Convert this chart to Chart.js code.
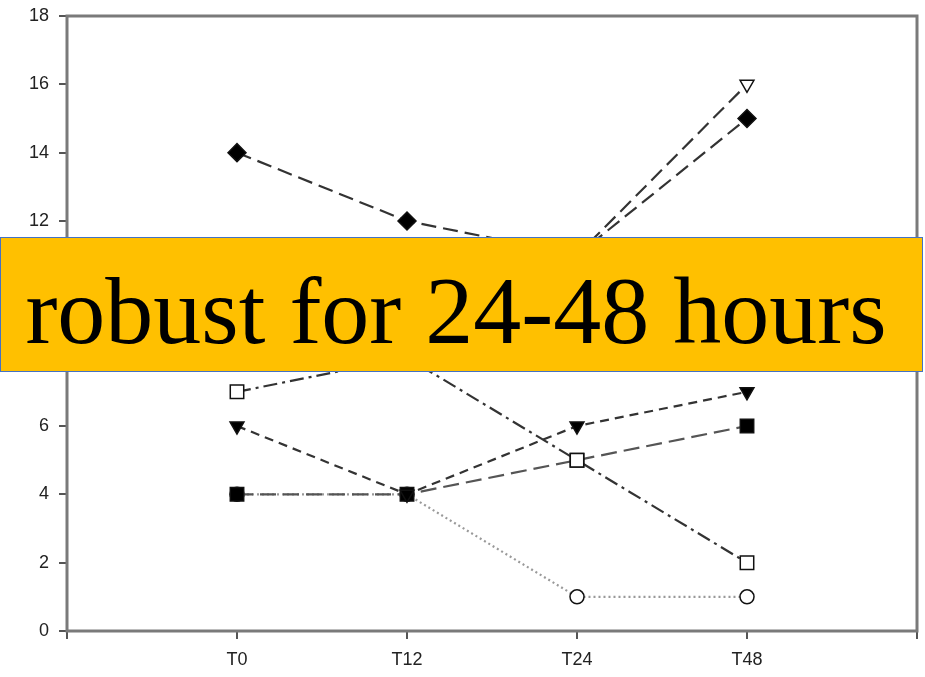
<!DOCTYPE html>
<html>
<head>
<meta charset="utf-8">
<script src="https://cdn.jsdelivr.net/npm/chart.js@4.4.0/dist/chart.umd.min.js"></script>
<style>
  body { margin: 0; background: #fff; }
  #wrap { position: relative; width: 925px; height: 677px; overflow: hidden; }
  #banner {
    position: absolute; left: 0; top: 237px; width: 921px; height: 133px;
    background: #FFC000; border: 1px solid #4472C4;
  }
  #bannerText {
    position: absolute; left: 0; top: 263px; width: 912px; text-align: center;
    font-family: 'Liberation Serif', 'Times New Roman', serif; font-size: 96px;
    line-height: 96px; color: #000; white-space: nowrap;
  }
</style>
</head>
<body>
<div id="wrap">
  <canvas id="chart" width="925" height="677"></canvas>
  <div id="banner"></div>
  <div id="bannerText">robust for 24-48 hours</div>
</div>
<script>
// kategorier och y-axel
const categories = ['T0', 'T12', 'T24', 'T48'];
const yMin = 0;
const yMax = 18;
const yStep = 2;

// serier (dolda punkter uppskattade)
const filledDiamond = [14, 12, 11, 15];
const openTriangleDown = [10, 9, 11, 16];
const openSquare = [7, 8, 5, 2];
const filledTriangleDown = [6, 4, 6, 7];
const filledSquare = [4, 4, 5, 6];
const openCircle = [4, 4, 1, 1];

function toPoints(values) {
  return values.map((v, i) => ({ x: i, y: v }));
}

// ram runt plotytan
const framePlugin = {
  id: 'frame',
  beforeDatasetsDraw(chart) {
    const { ctx, chartArea } = chart;
    ctx.save();
    ctx.strokeStyle = '#7a7a7a';
    ctx.lineWidth = 3;
    ctx.strokeRect(chartArea.left, chartArea.top, chartArea.right - chartArea.left, chartArea.bottom - chartArea.top);
    ctx.restore();
  }
};

function series(values, style, dash, color, fill, rotation, radius) {
  return {
    data: toPoints(values),
    borderColor: color,
    borderWidth: 2.2,
    borderDash: dash,
    pointStyle: style,
    pointRotation: rotation || 0,
    pointRadius: radius,
    pointBackgroundColor: fill,
    pointBorderColor: '#111',
    pointBorderWidth: 1.5,
    fill: false,
    tension: 0,
  };
}

const ctx = document.getElementById('chart').getContext('2d');
new Chart(ctx, {
  type: 'line',
  data: {
    datasets: [
      series(filledDiamond, 'rectRot', [15, 7], '#333', '#000', 0, 9),
      series(openTriangleDown, 'triangle', [15, 7], '#333', '#fff', 180, 8),
      series(openSquare, 'rect', [14, 5, 3, 5], '#333', '#fff', 0, 9.5),
      series(filledTriangleDown, 'triangle', [9, 6], '#333', '#000', 180, 8),
      series(filledSquare, 'rect', [16, 7], '#555', '#000', 0, 9.5),
      series(openCircle, 'circle', [2, 3], '#999', '#fff', 0, 7),
    ],
  },
  options: {
    responsive: false,
    animation: false,
    events: [],
    layout: { autoPadding: false, padding: { top: 16, right: 8, left: 0, bottom: 0 } },
    plugins: { legend: { display: false }, tooltip: { enabled: false } },
    scales: {
      x: {
        type: 'linear',
        min: -1,
        max: 4,
        afterFit(scale) {
          scale.height = 46;
          scale.paddingLeft = 0;
          scale.paddingRight = 0;
        },
        ticks: {
          stepSize: 1,
          color: '#222',
          padding: 10,
          font: { family: 'Liberation Sans, Arial, sans-serif', size: 18 },
          callback: (v) => categories[v] || '',
        },
        grid: { drawOnChartArea: false, drawTicks: true, tickLength: 8, color: '#555', lineWidth: 2 },
        border: { display: false },
      },
      y: {
        min: yMin,
        max: yMax,
        afterFit(scale) {
          scale.width = 67;
          scale.paddingTop = 0;
          scale.paddingBottom = 0;
        },
        ticks: {
          stepSize: yStep,
          color: '#222',
          padding: 10,
          font: { family: 'Liberation Sans, Arial, sans-serif', size: 18 },
        },
        grid: { drawOnChartArea: false, drawTicks: true, tickLength: 8, color: '#555', lineWidth: 2 },
        border: { display: false },
      },
    },
  },
  plugins: [framePlugin],
});
</script>
</body>
</html>
